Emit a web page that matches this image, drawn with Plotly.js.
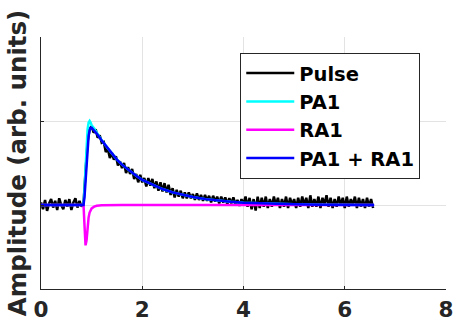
<!DOCTYPE html>
<html><head><meta charset="utf-8">
<script src="https://cdn.plot.ly/plotly-3.0.1.min.js"></script>
<style>html,body{margin:0;padding:0;background:#fff}#c{width:455px;height:323px}</style>
</head><body><div id="c"></div>
<script>
// Pulse: measured signal sampled from t=0 every 0.04
const pulseStart = 0;
const pulseStep = 0.04;
const pulse = [
 0.03,-0.05,0.06,-0.07,0.02,0.07,-0.03,0.05,-0.06,0.08,0.00,-0.05,0.06,-0.02,0.07,-0.06,0.03,0.08,-0.03,0.05,-0.02,
 0.02,0.40,0.75,0.90,0.94,0.86,0.90,0.80,0.83,0.74,
 0.75,0.63,0.67,0.56,0.62,0.54,0.58,0.47,0.52,0.44,0.50,0.38,0.45,0.37,0.43,0.31,0.37,0.27,0.36,0.27,
 0.32,0.22,0.32,0.23,0.31,0.20,0.28,0.17,0.27,0.16,0.26,0.15,0.24,0.12,0.20,0.09,0.18,0.10,0.17,0.08,
 0.15,0.08,0.15,0.08,0.13,0.06,0.14,0.06,0.12,0.05,0.12,0.05,0.11,0.03,0.11,0.04,0.10,0.02,0.10,0.03,
 0.09,0.01,0.08,0.02,0.09,0.01,0.06,-0.01,0.07,0.01,
 0.10,-0.02,0.085,-0.05,0.07,-0.065,0.10,-0.035,0.085,-0.02,0.10,-0.035,0.07,-0.02,0.10,0.00,0.085,-0.035,0.07,-0.02,
 0.10,-0.035,0.085,0.00,0.07,-0.035,0.085,-0.02,0.10,0.00,0.085,-0.035,0.115,-0.02,0.07,-0.02,0.10,-0.035,0.085,0.01,
 0.115,-0.02,0.085,-0.035,0.07,-0.02,0.10,0.00,0.085,-0.035,0.10,-0.02,0.07,0.00,0.10,-0.035,0.085,-0.02,0.07,-0.035,
 0.085,-0.02,0.07,-0.035
];
// Fitted components
const fitX = [0,0.84,0.86,0.88,0.90,0.92,0.94,0.96,0.98,1.00,1.05,1.10,1.20,1.30,1.40,1.50,1.60,1.70,1.80,1.90,2.00,2.20,2.40,2.60,2.80,3.00,3.25,3.50,3.75,4.00,4.50,5.00,5.50,6.00,6.58];
const pa1 = [0,0,0.20,0.45,0.70,0.90,0.98,1.00,0.98,0.95,0.91,0.86,0.77,0.69,0.61,0.54,0.48,0.43,0.38,0.34,0.30,0.24,0.19,0.15,0.12,0.095,0.07,0.052,0.038,0.028,0.015,0.008,0.004,0.002,0.001];
const ra1 = [0,0,-0.25,-0.48,-0.42,-0.25,-0.15,-0.09,-0.06,-0.04,-0.02,-0.01,-0.003,0,0,0,0,0,0,0,0,0,0,0,0,0,0,0,0,0,0,0,0,0,0];
const pa1ra1 = [0,0,0.10,0.30,0.50,0.70,0.82,0.89,0.92,0.92,0.89,0.85,0.767,0.69,0.61,0.54,0.48,0.43,0.38,0.34,0.30,0.24,0.19,0.15,0.12,0.095,0.07,0.052,0.038,0.028,0.015,0.008,0.004,0.002,0.001];
const names = ["Pulse","PA1","RA1","PA1 + RA1"];
const colors = ["#000000","#00ffff","#ff00ff","#0000ff"];
const xTicks = [0,2,4,6,8];
const yTicks = [-1,0,1,2];

const traces = [
 {type:"scatter",mode:"lines",x0:pulseStart,dx:pulseStep,y:pulse,name:names[0],line:{color:colors[0],width:2.5}},
 {type:"scatter",mode:"lines",x:fitX,y:pa1,name:names[1],line:{color:colors[1],width:2.5}},
 {type:"scatter",mode:"lines",x:fitX,y:ra1,name:names[2],line:{color:colors[2],width:2.5}},
 {type:"scatter",mode:"lines",x:fitX,y:pa1ra1,name:names[3],line:{color:colors[3],width:2.5}}
];
const font = "DejaVu Sans, sans-serif";
const layout = {
 width:455,height:323,
 margin:{l:41,r:9,t:37,b:34},
 paper_bgcolor:"#fff",plot_bgcolor:"#fff",
 showlegend:true,
 font:{family:font,color:"#262626"},
 xaxis:{range:[0,8],tickvals:xTicks,ticktext:xTicks.map(String),ticks:"inside",ticklen:3,tickcolor:"#262626",
   ticklabelstandoff:1,
   showline:true,linecolor:"#262626",linewidth:1,mirror:false,showgrid:true,gridcolor:"#e3e3e3",zeroline:false,
   tickfont:{family:font,size:21.5,color:"#262626",weight:"bold"}},
 yaxis:{range:[-1,2],tickvals:yTicks,showticklabels:false,ticks:"inside",ticklen:3,tickcolor:"#262626",
   showline:true,linecolor:"#262626",linewidth:1,showgrid:true,gridcolor:"#e3e3e3",zeroline:false,
   title:{text:"Amplitude (arb. units)",standoff:6,font:{family:font,size:24.5,color:"#262626",weight:"bold"}}},
 legend:{x:0.492,y:0.937,xanchor:"left",yanchor:"top",bgcolor:"#fff",bordercolor:"#262626",borderwidth:1,
   itemwidth:48,tracegroupgap:0,font:{family:font,size:19.5,color:"#000",weight:"bold"}}
};
Plotly.newPlot("c",traces,layout,{staticPlot:true,displayModeBar:false});
</script></body></html>
